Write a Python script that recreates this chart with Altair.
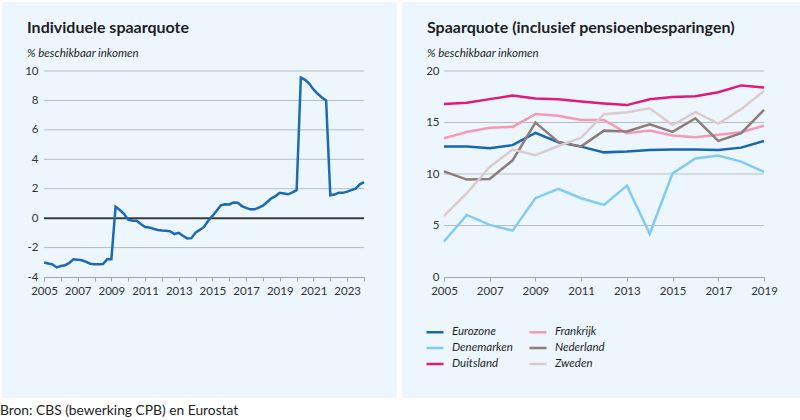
import altair as alt
import pandas as pd

# ---------------- data ----------------
# Left panel: individual savings rate, quarterly (2005 Q1 ... 2024 Q1)
left_values = [
    -3.02, -3.08, -3.14, -3.35, -3.25, -3.20, -3.05, -2.80,   # 2005-2006
    -2.82, -2.86, -2.97, -3.10, -3.13, -3.13, -3.12, -2.80,   # 2007-2008
    -2.80, 0.78, 0.55, 0.30, -0.10, -0.18, -0.18, -0.40,      # 2009-2010
    -0.60, -0.63, -0.72, -0.80, -0.84, -0.86, -0.90, -1.08,   # 2011-2012
    -1.00, -1.20, -1.38, -1.36, -0.98, -0.80, -0.60, -0.18,   # 2013-2014
    0.15, 0.50, 0.87, 0.94, 0.93, 1.07, 1.05, 0.82,           # 2015-2016
    0.70, 0.60, 0.60, 0.72, 0.85, 1.10, 1.35, 1.50,           # 2017-2018
    1.72, 1.68, 1.62, 1.75, 1.90, 9.55, 9.40, 9.15,           # 2019-2020
    8.75, 8.45, 8.20, 8.00, 1.55, 1.60, 1.72, 1.72,           # 2021-2022
    1.80, 1.90, 2.00, 2.30, 2.45,                             # 2023-2024
]
left_time = [2005 + 0.25 * i for i in range(len(left_values))]
left_y_ticks = [-4, -2, 0, 2, 4, 6, 8, 10]
left_grid = [-2, 2, 4, 6, 8, 10]
left_x_ticks = list(range(2005, 2025))

# Right panel: savings rate incl. pension savings, yearly
years = list(range(2005, 2020))
eurozone = [12.68, 12.68, 12.50, 12.80, 14.00, 13.08, 12.66, 12.10, 12.18, 12.32, 12.38, 12.38, 12.33, 12.56, 13.20]
denemarken = [3.45, 6.03, 5.06, 4.50, 7.65, 8.55, 7.65, 7.00, 8.87, 4.20, 10.06, 11.50, 11.80, 11.20, 10.20]
duitsland = [16.80, 16.92, 17.27, 17.62, 17.33, 17.25, 17.05, 16.85, 16.69, 17.26, 17.48, 17.56, 17.94, 18.60, 18.40]
frankrijk = [13.47, 14.08, 14.49, 14.57, 15.82, 15.65, 15.24, 15.24, 13.95, 14.23, 13.74, 13.58, 13.80, 14.05, 14.70]
nederland = [10.25, 9.46, 9.52, 11.33, 14.99, 13.12, 12.68, 14.21, 14.12, 14.83, 14.09, 15.41, 13.22, 13.96, 16.22]
zweden = [5.94, 8.13, 10.68, 12.37, 11.83, 12.72, 13.52, 15.81, 15.99, 16.38, 14.76, 16.00, 14.89, 16.28, 18.07]
right_y_ticks = [0, 5, 10, 15, 20]
right_grid = [5, 10, 15, 20]
right_x_ticks = list(range(2005, 2020, 2))

series_order = ["Eurozone", "Denemarken", "Duitsland", "Frankrijk", "Nederland", "Zweden"]
series_colors = ["#1766b1", "#80cbf5", "#e2187b", "#f59ab6", "#8d7c77", "#dccbce"]

left_title = "Individuele spaarquote"
right_title = "Spaarquote (inclusief pensioenbesparingen)"
y_subtitle = "% beschikbaar inkomen"
source_text = "Bron: CBS (bewerking CPB) en Eurostat"

# ---------------- style ----------------
BG = "#edf6fd"
GRID = "#b6bdc1"
AXIS_GREY = "#9ea6aa"
TEXT = "#1e1e1e"
LABEL = "#333333"
FONT = "Lato"
W, H = 320, 206

one = pd.DataFrame({"p": [0]})


def bg_layer(x1, x2):
    return alt.Chart(one).mark_rect(color=BG).encode(
        x=alt.value(x1), x2=alt.value(x2), y=alt.value(-69), y2=alt.value(327)
    )


def text_layer(s, x, y, size, weight="normal", style="normal"):
    return alt.Chart(pd.DataFrame({"s": [s]})).mark_text(
        align="left", baseline="alphabetic", font=FONT, fontSize=size,
        fontWeight=weight, fontStyle=style, color=TEXT
    ).encode(text="s:N", x=alt.value(x), y=alt.value(y))


y_label_expr = "datum.value < 0 ? '-' + abs(datum.value) : '' + datum.value"

# ---------------- left chart ----------------
left_scale_y = alt.Scale(domain=[-4, 10], nice=False, zero=False)
left_scale_x = alt.Scale(domain=[2005, 2024], nice=False, zero=False)

left_y_axis = alt.Axis(
    values=left_y_ticks, labelExpr=y_label_expr, ticks=False, domain=False,
    labelPadding=6, labelFont=FONT, labelFontSize=11.5, labelColor=LABEL,
    grid=False, title=None, zindex=1, labelFlush=False, labelOverlap=False)
left_x_axis = alt.Axis(
    values=left_x_ticks, labelExpr="(datum.value - 2005) % 2 == 0 ? '' + datum.value : ''",
    tickSize=4, tickColor=AXIS_GREY, domainColor=AXIS_GREY, domainWidth=1,
    labelPadding=4, labelFont=FONT, labelFontSize=11.5, labelColor=LABEL,
    grid=False, title=None, zindex=1, labelFlush=False, labelOverlap=False)

df_left = pd.DataFrame({"t": left_time, "v": left_values})

left_grid_layer = alt.Chart(pd.DataFrame({"v": left_grid})).mark_rule(
    color=GRID, strokeWidth=1
).encode(y=alt.Y("v:Q", scale=left_scale_y, axis=left_y_axis))

left_zero = alt.Chart(pd.DataFrame({"v": [0]})).mark_rule(
    color="#3a3a3a", strokeWidth=2
).encode(y=alt.Y("v:Q", scale=left_scale_y, axis=left_y_axis))

left_line = alt.Chart(df_left).mark_line(color="#1a6ab4", strokeWidth=2.5).encode(
    x=alt.X("t:Q", scale=left_scale_x, axis=left_x_axis),
    y=alt.Y("v:Q", scale=left_scale_y, axis=left_y_axis),
)

left = alt.layer(
    bg_layer(-42, 353),
    left_grid_layer,
    left_zero,
    left_line,
    text_layer(left_title, -17, -37.7, 16, weight="bold"),
    text_layer(y_subtitle, -17, -14.5, 11.5, style="italic"),
    text_layer(source_text, -44, 344, 13.8),
).properties(width=W, height=H)

# ---------------- right chart ----------------
rows = []
for name, vals in [("Eurozone", eurozone), ("Denemarken", denemarken), ("Duitsland", duitsland),
                   ("Frankrijk", frankrijk), ("Nederland", nederland), ("Zweden", zweden)]:
    for yr, v in zip(years, vals):
        rows.append({"jaar": yr, "waarde": v, "reeks": name})
df_right = pd.DataFrame(rows)

right_scale_y = alt.Scale(domain=[0, 20], nice=False, zero=False)
right_scale_x = alt.Scale(domain=[2005, 2019], nice=False, zero=False)

right_y_axis = alt.Axis(
    values=right_y_ticks, ticks=False, domain=False,
    labelPadding=5, labelFont=FONT, labelFontSize=11.5, labelColor=LABEL,
    grid=False, title=None, zindex=1, labelFlush=False, labelOverlap=False)
right_x_axis = alt.Axis(
    values=right_x_ticks, format="d",
    tickSize=4, tickColor=AXIS_GREY, domainColor=AXIS_GREY, domainWidth=1,
    labelPadding=4, labelFont=FONT, labelFontSize=11.5, labelColor=LABEL,
    grid=False, title=None, zindex=1, labelFlush=False, labelOverlap=False)

right_grid_layer = alt.Chart(pd.DataFrame({"waarde": right_grid})).mark_rule(
    color=GRID, strokeWidth=1
).encode(y=alt.Y("waarde:Q", scale=right_scale_y, axis=right_y_axis))

right_lines = alt.Chart(df_right).mark_line(strokeWidth=2.5).encode(
    x=alt.X("jaar:Q", scale=right_scale_x, axis=right_x_axis),
    y=alt.Y("waarde:Q", scale=right_scale_y, axis=right_y_axis),
    color=alt.Color("reeks:N", scale=alt.Scale(domain=series_order, range=series_colors),
                    sort=series_order,
                    legend=alt.Legend(
                        orient="none", legendX=381, legendY=251, columns=2,
                        title=None, symbolType="stroke", symbolSize=289,
                        symbolStrokeWidth=2.5, labelFont=FONT, labelFontSize=11.5,
                        labelFontStyle="italic", labelColor=TEXT, labelOffset=7,
                        columnPadding=11, rowPadding=0, padding=0)),
)

right = alt.layer(
    bg_layer(-42, 356),
    right_grid_layer,
    right_lines,
    text_layer(right_title, -17, -37.7, 16, weight="bold"),
    text_layer(y_subtitle, -17, -14.5, 11.5, style="italic"),
).properties(width=W, height=H)

chart = alt.hconcat(left, right, spacing=80, bounds="flush").properties(
    padding={"left": 0, "top": 2, "right": 0, "bottom": 0},
    background="white",
).configure_view(strokeWidth=0)

chart.save("out.html", embed_options={"renderer": "svg", "actions": False})
